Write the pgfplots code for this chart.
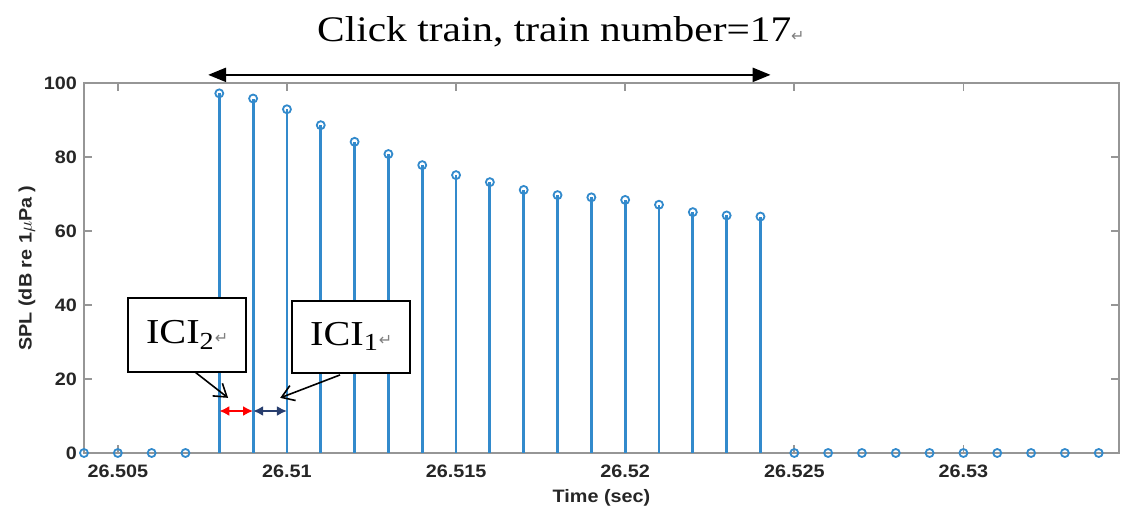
\documentclass[border=0pt]{standalone}
\usepackage{fontspec}
\setmainfont{Liberation Serif}[FakeStretch=1.15]
\newfontfamily\labfont{Liberation Sans}[FakeStretch=1.1]
\newfontfamily\symfont{DejaVu Sans}
\usepackage{pgfplots}
\pgfplotsset{compat=1.18}
\usepackage{pgfplotstable}
\usetikzlibrary{arrows.meta,calc}
\definecolor{stemblue}{RGB}{50,138,204}
\definecolor{axgray}{RGB}{150,150,150}
\definecolor{labgray}{RGB}{38,38,38}
\definecolor{navy}{RGB}{40,62,110}
\newcommand{\ret}{{\symfont\color{gray}\fontsize{8}{8}\selectfont ↵}}

% t = ms after 26.5 s, spl in dB re 1 uPa
\pgfplotstableread{
t spl
4 0
5 0
6 0
7 0
8 97.2
9 95.8
10 92.9
11 88.6
12 84.1
13 80.8
14 77.8
15 75.1
16 73.2
17 71.1
18 69.7
19 69.1
20 68.4
21 67.1
22 65.1
23 64.2
24 63.9
25 0
26 0
27 0
28 0
29 0
30 0
31 0
32 0
33 0
34 0
}\clicks

\begin{document}
\begin{tikzpicture}
\begin{axis}[
    name=ax,
    scale only axis,
    width=517.5pt, height=185pt,
    xmin=4, xmax=34.6, ymin=0, ymax=100,
    xtick={5,10,15,20,25,30},
    xticklabels={26.505,26.51,26.515,26.52,26.525,26.53},
    ytick={0,20,...,100},
    tick align=inside,
    major tick length=4pt,
    axis line style={axgray, line width=0.8pt},
    every tick/.style={axgray, line width=0.8pt},
    /pgf/number format/assume math mode=true,
    ticklabel style={font=\labfont\bfseries\fontsize{9}{10}\selectfont, text=labgray},
    xticklabel style={yshift=-2.5pt},
    label style={font=\labfont\bfseries\fontsize{9}{10}\selectfont, text=labgray},
    xlabel={Time (sec)},
    ylabel={SPL (dB re 1$\mu$Pa )},
    xlabel style={at={(axis description cs:0.5,-0.12)}, anchor=center},
    ylabel style={at={(axis description cs:-0.055,0.5)}, anchor=center},
    clip=false,
]
\addplot[ycomb, stemblue, line width=1.4pt, mark=o, mark size=2pt,
    mark options={fill=white, line width=0.9pt}] table[x=t, y=spl] {\clicks};

\draw[{Triangle[length=9pt,width=7pt]}-{Triangle[length=9pt,width=7pt]}, line width=1.2pt]
    (axis cs:7.67,102.2) -- (axis cs:24.3,102.2);
\node[font=\fontsize{18}{20}\selectfont] at (axis cs:18.1,113.8) {Click train, train number=17\ret};

\node[draw, line width=0.8pt, fill=white, minimum width=59pt, minimum height=37pt,
    font=\fontsize{17.5}{20}\selectfont] at (axis cs:7.05,31.9) {ICI\textsubscript{2}\ret};
\node[draw, line width=0.8pt, fill=white, minimum width=59pt, minimum height=36pt,
    font=\fontsize{17.5}{20}\selectfont] at (axis cs:11.9,31.4) {ICI\textsubscript{1}\ret};
\draw[-{Straight Barb[length=6pt,width=8pt]}, line width=0.8pt]
    (axis cs:7.28,21.9) -- (axis cs:8.26,14.9);
\draw[-{Straight Barb[length=6pt,width=8pt]}, line width=0.8pt]
    (axis cs:11.57,21.1) -- (axis cs:9.8,14.9);
\draw[{Latex[length=5pt,width=5pt]}-{Latex[length=5pt,width=5pt]}, red, line width=1pt]
    (axis cs:8,11.35) -- (axis cs:9,11.35);
\draw[{Latex[length=5pt,width=5pt]}-{Latex[length=5pt,width=5pt]}, navy, line width=1pt]
    (axis cs:9,11.35) -- (axis cs:10,11.35);
\end{axis}
\path[use as bounding box] ($(ax.south west)+(-42pt,-29.5pt)$) rectangle ($(ax.north east)+(1pt,41.5pt)$);
\end{tikzpicture}
\end{document}
